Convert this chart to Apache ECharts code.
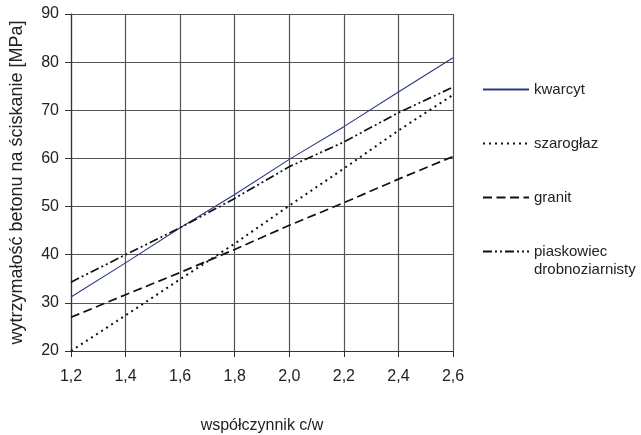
<!DOCTYPE html>
<html>
<head>
<meta charset="utf-8">
<script src="https://cdn.jsdelivr.net/npm/echarts@6/dist/echarts.min.js"></script>
<style>
html,body{margin:0;padding:0;background:#fff;}
#c{width:641px;height:435px;}
</style>
</head>
<body>
<div id="c"></div>
<script>
const xValues = [1.2, 1.4, 1.6, 1.8, 2.0, 2.2, 2.4, 2.6];
const kwarcyt = [31.2, 38.3, 45.6, 52.5, 59.8, 66.6, 73.8, 80.9];
const szaroglaz = [20.0, 27.4, 34.9, 42.3, 50.2, 57.9, 65.8, 73.2];
const granit = [27.0, 31.7, 36.3, 41.1, 46.1, 50.8, 55.7, 60.4];
const piaskowiec = [34.3, 40.0, 45.6, 51.7, 58.3, 63.4, 69.5, 74.8];
const seriesNames = ['kwarcyt', 'szarogłaz', 'granit', 'piaskowiec drobnoziarnisty'];
const xTitle = 'współczynnik c/w';
const yTitle = 'wytrzymałość betonu na ściskanie [MPa]';

const FONT = '"Liberation Sans", Arial, sans-serif';
const pairs = arr => xValues.map((x, i) => [x, arr[i]]);
const styles = [
  {color: '#2b3a80', width: 1.1, type: 'solid'},
  {color: '#111', width: 2, type: [2, 4]},
  {color: '#111', width: 1.7, type: [9, 4.5]},
  {color: '#111', width: 1.7, type: [9, 3, 2, 3, 2, 3]}
];
const dataSets = [kwarcyt, szaroglaz, granit, piaskowiec];

const legendBase = {
  orient: 'vertical',
  left: 482,
  padding: 0,
  itemWidth: 46,
  itemHeight: 14,
  itemGap: 36,
  itemStyle: {opacity: 0},
  textStyle: {fontFamily: FONT, fontSize: 15, color: '#222', lineHeight: 18}
};

const chart = echarts.init(document.getElementById('c'), null, {renderer: 'canvas'});
chart.setOption({
  animation: false,
  backgroundColor: '#fff',
  textStyle: {fontFamily: FONT},
  grid: {left: 71, right: 188, top: 14, bottom: 84, containLabel: false, outerBoundsMode: 'none'},
  legend: [
    Object.assign({}, legendBase, {
      top: 80.5,
      data: seriesNames.slice(0, 3)
    }),
    Object.assign({}, legendBase, {
      top: 251.5 - 27,
      data: [seriesNames[3]],
      formatter: () => ' \npiaskowiec\ndrobnoziarnisty'
    })
  ],
  xAxis: {
    type: 'value',
    min: 1.2, max: 2.6, interval: 0.2,
    name: xTitle,
    nameLocation: 'middle',
    nameGap: 67,
    nameTextStyle: {fontFamily: FONT, fontSize: 16, color: '#222'},
    axisLine: {show: true, lineStyle: {color: '#333', width: 1.2}},
    axisTick: {show: true, length: 6, lineStyle: {color: '#333'}},
    axisLabel: {margin: 18, fontFamily: FONT, fontSize: 16, color: '#222',
      formatter: v => v.toFixed(1).replace('.', ',')},
    splitLine: {show: true, lineStyle: {color: '#555', width: 1.2}}
  },
  yAxis: {
    type: 'value',
    min: 20, max: 90, interval: 10,
    name: yTitle,
    nameLocation: 'middle',
    nameGap: 45,
    nameRotate: 90,
    nameTextStyle: {fontFamily: FONT, fontSize: 18, color: '#222'},
    axisLine: {show: true, lineStyle: {color: '#333', width: 1.2}},
    axisTick: {show: true, length: 6, lineStyle: {color: '#333'}},
    axisLabel: {margin: 12, fontFamily: FONT, fontSize: 16, color: '#222'},
    splitLine: {show: true, lineStyle: {color: '#555', width: 1.2}}
  },
  series: dataSets.map((d, i) => ({
    name: seriesNames[i],
    type: 'line',
    data: pairs(d),
    symbol: 'none',
    lineStyle: styles[i],
    itemStyle: {color: styles[i].color}
  }))
});
</script>
</body>
</html>
